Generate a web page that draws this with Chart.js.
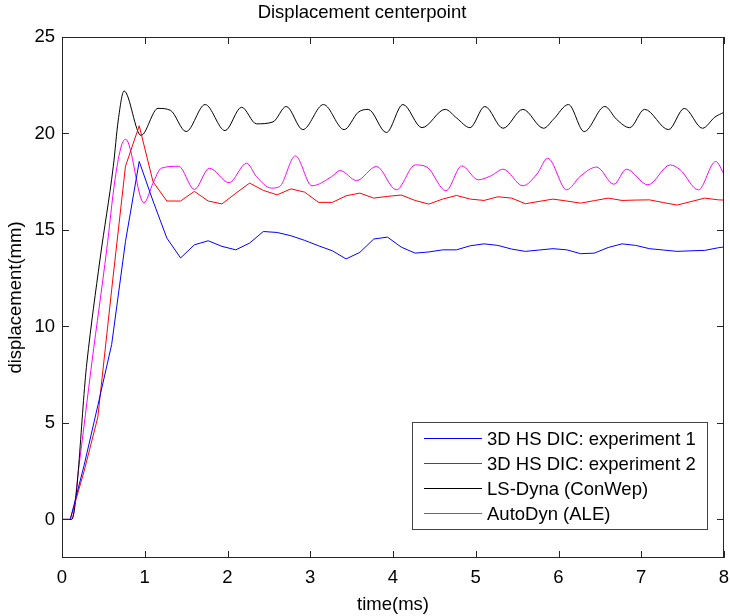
<!DOCTYPE html>
<html>
<head>
<meta charset="utf-8">
<script src="https://cdn.jsdelivr.net/npm/chart.js@4.4.1/dist/chart.umd.min.js"></script>
<style>
  html, body { margin: 0; padding: 0; background: #fff; }
  canvas { display: block; }
</style>
</head>
<body>
<canvas id="myChart" width="730" height="616"></canvas>
<script>
// experiment samples (ms)
const expTime = [0, 0.1, 0.267, 0.433, 0.6, 0.767, 0.933, 1.1, 1.267, 1.433, 1.6, 1.767, 1.933,
  2.1, 2.267, 2.433, 2.6, 2.767, 2.933, 3.1, 3.267, 3.433, 3.6, 3.767, 3.933,
  4.1, 4.267, 4.433, 4.6, 4.767, 4.933, 5.1, 5.267, 5.433, 5.6, 5.767, 5.933,
  6.1, 6.267, 6.433, 6.6, 6.767, 6.933, 7.1, 7.267, 7.433, 7.6, 7.767, 7.933, 8.0];
const exp1Disp = [0, 0, 2.8, 5.9, 9.06, 14.4, 18.55, 16.5, 14.58, 13.55, 14.23, 14.44, 14.15,
  13.97, 14.32, 14.92, 14.87, 14.7, 14.46, 14.18, 13.92, 13.5, 13.84, 14.53, 14.63,
  14.11, 13.8, 13.86, 13.97, 13.97, 14.18, 14.28, 14.2, 14.01, 13.89, 13.96, 14.03,
  13.97, 13.77, 13.8, 14.09, 14.28, 14.2, 14.03, 13.96, 13.89, 13.92, 13.94, 14.08, 14.12];
const exp2Disp = [0, 0, 2.5, 5.3, 11.9, 18.3, 20.4, 17.5, 16.5, 16.5, 17.0, 16.5, 16.35,
  16.9, 17.43, 17.05, 16.82, 17.13, 16.96, 16.43, 16.43, 16.77, 16.91, 16.65, 16.74,
  16.81, 16.53, 16.34, 16.6, 16.79, 16.6, 16.53, 16.72, 16.65, 16.36, 16.48, 16.6,
  16.5, 16.39, 16.52, 16.65, 16.53, 16.55, 16.56, 16.42, 16.29, 16.47, 16.65, 16.56, 16.55];

// LS-Dyna (ConWep)
const dynaTime = [0, 0.117, 0.3, 0.46, 0.62, 0.68, 0.75, 0.955, 1.16, 1.31, 1.5, 1.73, 1.97,
  2.17, 2.35, 2.55, 2.71, 2.91, 3.16, 3.41, 3.58, 3.7, 3.92, 4.12, 4.35, 4.63, 4.77, 4.93,
  5.11, 5.33, 5.57, 5.82, 5.94, 6.12, 6.31, 6.56, 6.7, 6.86, 7.04, 7.33, 7.52, 7.74, 7.89, 8.0];
const dynaDisp = [0, 0, 8.1, 13.5, 18.3, 20.7, 22.2, 19.9, 21.3, 21.2, 20.1, 21.5, 20.15,
  21.36, 20.5, 20.6, 21.4, 20.2, 21.5, 20.2, 21.1, 21.25, 20.05, 21.5, 20.3, 21.25, 20.8, 20.3,
  21.4, 20.27, 21.25, 20.27, 20.74, 21.5, 20.1, 21.4, 20.74, 20.3, 21.25, 20.2, 21.3, 20.27, 20.85, 21.1];

// AutoDyn (ALE)
const aleTime = [0, 0.117, 0.205, 0.36, 0.54, 0.64, 0.72, 0.77, 0.99, 1.1, 1.2, 1.41, 1.6, 1.78,
  2.02, 2.23, 2.35, 2.53, 2.63, 2.82, 3.02, 3.26, 3.36, 3.56, 3.8, 4.04, 4.27, 4.41, 4.64, 4.83,
  5.03, 5.19, 5.33, 5.57, 5.74, 5.87, 6.1, 6.26, 6.46, 6.67, 6.82, 7.08, 7.35, 7.47, 7.69, 7.9, 8.0];
const aleDisp = [0, 0, 2.76, 8.1, 13.97, 17.6, 19.4, 19.7, 16.4, 17.43, 18.2, 18.3, 17.1, 18.2,
  17.45, 18.46, 17.77, 17.17, 17.25, 18.84, 17.29, 17.77, 18.08, 17.56, 18.29, 17.08, 18.37, 18.26, 17.03, 18.32,
  17.6, 17.82, 18.15, 17.29, 17.9, 18.72, 17.08, 17.77, 18.26, 17.37, 18.15, 17.34, 18.37, 18.12, 17.08, 18.55, 17.9];

const xTicks = [0, 1, 2, 3, 4, 5, 6, 7, 8];
const yTicks = [0, 5, 10, 15, 20, 25];

const FONT = 'Liberation Sans, Arial, Helvetica, sans-serif';
const FSIZE = 18.5;

function pairs(xs, ys) {
  let out = [];
  for (let i = 0; i < xs.length; i++) {
    out.push({x: xs[i], y: ys[i]});
  }
  return out;
}

// matlab style box with inward ticks + legend inside the axes
const boxPlugin = {
  id: 'box',
  afterDatasetsDraw(chart) {
    const ctx = chart.ctx;
    const a = chart.chartArea;
    const xs = chart.scales.x, ys = chart.scales.y;
    ctx.save();
    ctx.strokeStyle = '#262626';
    ctx.lineWidth = 1;
    ctx.strokeRect(a.left + 0.5, a.top + 0.5, a.right - a.left - 1, a.bottom - a.top - 1);
    ctx.beginPath();
    xTicks.forEach(function(v) {
      let px = Math.round(xs.getPixelForValue(v)) + 0.5;
      ctx.moveTo(px, a.bottom); ctx.lineTo(px, a.bottom - 7);
      ctx.moveTo(px, a.top); ctx.lineTo(px, a.top + 7);
    });
    yTicks.forEach(function(v) {
      let py = Math.round(ys.getPixelForValue(v)) + 0.5;
      ctx.moveTo(a.left, py); ctx.lineTo(a.left + 7, py);
      ctx.moveTo(a.right, py); ctx.lineTo(a.right - 7, py);
    });
    ctx.stroke();
    ctx.restore();
  },
  afterDraw(chart) {
    const ctx = chart.ctx;
    const a = chart.chartArea;
    const w = 295, h = 107;
    const left = Math.round(a.right - 17 - w), top = Math.round(a.bottom - 29 - h);
    ctx.save();
    ctx.fillStyle = '#fff';
    ctx.fillRect(left, top, w, h);
    ctx.strokeStyle = '#444';
    ctx.lineWidth = 1;
    ctx.strokeRect(left + 0.5, top + 0.5, w, h);
    ctx.font = FSIZE + 'px ' + FONT;
    ctx.textBaseline = 'middle';
    chart.data.datasets.forEach(function(ds, i) {
      let y = Math.round(top + 16 + i * 25) + 0.5;
      ctx.strokeStyle = ds.borderColor;
      ctx.beginPath();
      ctx.moveTo(left + 12, y);
      ctx.lineTo(left + 70, y);
      ctx.stroke();
      ctx.fillStyle = '#000';
      ctx.fillText(ds.label, left + 75, y + 1);
    });
    ctx.restore();
  }
};

const data = {
  datasets: [
    {
      label: '3D HS DIC: experiment 1',
      data: pairs(expTime, exp1Disp),
      borderColor: '#0000ff',
      borderWidth: 1,
      tension: 0
    },
    {
      label: '3D HS DIC: experiment 2',
      data: pairs(expTime, exp2Disp),
      borderColor: '#ff0000',
      borderWidth: 1,
      tension: 0
    },
    {
      label: 'LS-Dyna (ConWep)',
      data: pairs(dynaTime, dynaDisp),
      borderColor: '#000000',
      borderWidth: 1,
      cubicInterpolationMode: 'monotone'
    },
    {
      label: 'AutoDyn (ALE)',
      data: pairs(aleTime, aleDisp),
      borderColor: '#ff00ff',
      borderWidth: 1,
      cubicInterpolationMode: 'monotone'
    }
  ]
};

const config = {
  type: 'line',
  data: data,
  options: {
    responsive: false,
    animation: false,
    devicePixelRatio: 1,
    layout: { padding: { left: 0, right: 6, top: 0, bottom: 0 } },
    elements: { point: { radius: 0 } },
    plugins: {
      legend: { display: false },
      tooltip: { enabled: false },
      title: {
        display: true,
        text: 'Displacement centerpoint',
        color: '#000',
        font: { family: FONT, size: FSIZE, weight: 'normal' },
        padding: { top: 2, bottom: 12.8 }
      }
    },
    scales: {
      x: {
        type: 'linear',
        min: 0,
        max: 8,
        afterBuildTicks: function(s) { s.ticks = xTicks.map(v => ({value: v})); },
        afterFit: function(s) { s.height = 58; s.paddingLeft = 0; s.paddingRight = 0; },
        grid: { display: false, drawTicks: false },
        border: { display: false },
        ticks: { color: '#000', font: { family: FONT, size: FSIZE }, padding: 9, maxRotation: 0 },
        title: { display: true, text: 'time(ms)', color: '#000', font: { family: FONT, size: FSIZE }, padding: { top: 0, bottom: 0 } }
      },
      y: {
        type: 'linear',
        min: -2,
        max: 25,
        afterBuildTicks: function(s) { s.ticks = yTicks.map(v => ({value: v})); },
        afterFit: function(s) { s.width = 62; s.paddingTop = 0; s.paddingBottom = 0; },
        grid: { display: false, drawTicks: false },
        border: { display: false },
        ticks: { color: '#000', font: { family: FONT, size: FSIZE }, padding: 7 },
        title: { display: true, text: 'displacement(mm)', color: '#000', font: { family: FONT, size: FSIZE }, padding: { top: 5, bottom: 0 } }
      }
    }
  },
  plugins: [boxPlugin]
};

var myChart = new Chart(document.getElementById('myChart'), config);
</script>
</body>
</html>
